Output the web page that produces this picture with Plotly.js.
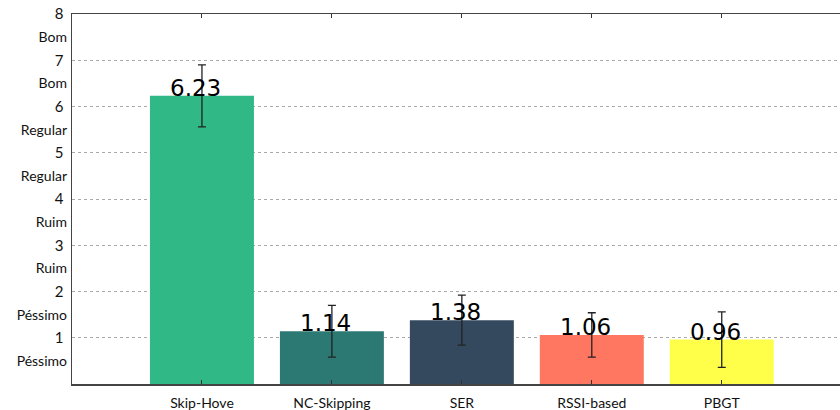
<!DOCTYPE html>
<html>
<head>
<meta charset="utf-8">
<script src="https://cdn.plot.ly/plotly-3.0.1.min.js"></script>
<style>
  html, body { margin: 0; padding: 0; background: #fff; }
  #chart { width: 840px; height: 410px; }
</style>
</head>
<body>
<div id="chart"></div>
<script>
// Mean score per handover method, with its error (±)
const methods = ["Skip-Hove", "NC-Skipping", "SER", "RSSI-based", "PBGT"];
const scores = [6.23, 1.14, 1.38, 1.06, 0.96];
const errors = [0.67, 0.56, 0.54, 0.48, 0.60];
const barColors = ["#30b887", "#2c7873", "#34495e", "#ff7761", "#ffff4a"];

// Left axis: numeric ticks and the quality words between them
const numTicks = [1, 2, 3, 4, 5, 6, 7, 8];
const wordTicks = [0.5, 1.5, 2.5, 3.5, 4.5, 5.5, 6.5, 7.5];
const wordLabels = ["Péssimo", "Péssimo", "Ruim", "Ruim", "Regular", "Regular", "Bom", "Bom"];

const xIdx = methods.map((_, i) => i);

const bars = {
  type: "bar",
  x: xIdx,
  y: scores,
  width: 0.8,
  marker: { color: barColors, line: { width: 0 } },
  error_y: {
    type: "data",
    array: errors,
    visible: true,
    color: "#222",
    thickness: 1.3,
    width: 4
  },
  hoverinfo: "skip",
  showlegend: false
};

// Invisible trace carrying the word ticks on an overlaid axis
const wordAxisTrace = {
  type: "scatter",
  x: [xIdx[0]],
  y: [scores[0]],
  yaxis: "y2",
  mode: "markers",
  marker: { opacity: 0 },
  hoverinfo: "skip",
  showlegend: false
};

const valueLabels = scores.map((v, i) => ({
  x: xIdx[i],
  y: v,
  xref: "x",
  yref: "y",
  text: v.toFixed(2),
  showarrow: false,
  xanchor: "center",
  yanchor: "bottom",
  xshift: -6,
  yshift: -7,
  font: { family: "DejaVu Sans", size: 23, color: "#000" }
}));

const tickFont = { family: "Lato", size: 14, color: "#111" };

const layout = {
  width: 840,
  height: 410,
  margin: { l: 72, r: 0, t: 14, b: 26 },
  paper_bgcolor: "#fff",
  plot_bgcolor: "#fff",
  showlegend: false,
  xaxis: {
    range: [-1, 4.91],
    tickvals: xIdx,
    ticktext: methods,
    ticks: "inside",
    ticklen: 4,
    tickcolor: "#333",
    showline: true,
    linecolor: "#444",
    linewidth: 1.5,
    mirror: "ticks",
    showgrid: false,
    zeroline: false,
    ticklabelstandoff: 6,
    tickfont: tickFont
  },
  yaxis: {
    range: [0, 8],
    tickvals: numTicks,
    ticks: "",
    showline: true,
    linecolor: "#444",
    linewidth: 1.5,
    showgrid: true,
    gridcolor: "#aaa",
    griddash: "dot",
    gridwidth: 1,
    zeroline: false,
    ticklabelstandoff: 4,
    tickfont: { family: "Lato", size: 15, color: "#111" }
  },
  yaxis2: {
    overlaying: "y",
    side: "left",
    range: [0, 8],
    tickvals: wordTicks,
    ticktext: wordLabels,
    ticks: "",
    showgrid: false,
    zeroline: false,
    showline: false,
    ticklabelstandoff: 4,
    tickfont: tickFont
  },
  annotations: valueLabels
};

Plotly.newPlot("chart", [bars, wordAxisTrace], layout, { displayModeBar: false, staticPlot: true });
</script>
</body>
</html>
